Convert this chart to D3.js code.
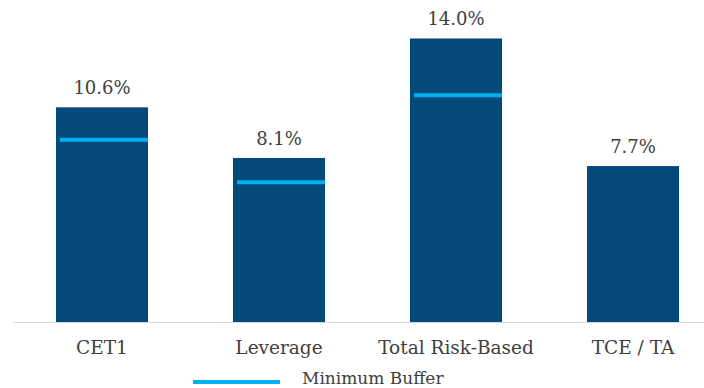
<!DOCTYPE html>
<html>
<head>
<meta charset="utf-8">
<script src="https://cdn.jsdelivr.net/npm/d3@7"></script>
<style>
  body { margin: 0; background: #fff; }
  svg text { font-family: "DejaVu Serif", Georgia, serif; fill: #404040; }
</style>
</head>
<body>
<script>
var categories = ["CET1", "Leverage", "Total Risk-Based", "TCE / TA"];
var ratios = [10.6, 8.1, 14.0, 7.7];
var buffers = [9.0, 6.9, 11.2, null];
var valueLabels = ["10.6%", "8.1%", "14.0%", "7.7%"];

var config = {
    width: 704,
    height: 388,
    baseline: 322,
    barColor: "#034a7b",
    bufferColor: "#00b0f0"
}

var svg = d3.select("body").append("svg")
    .attr("width", config.width)
    .attr("height", config.height)

var x = d3.scaleBand()
    .domain(categories)
    .range([13.5, 721.5])
    .paddingInner(0.48)
    .paddingOuter(0.24)

var y = d3.scaleLinear()
    .domain([0, 15.9])
    .range([config.baseline, 0])

var rows = categories.map(function(c, i) {
    return {cat: c, value: ratios[i], buffer: buffers[i], label: valueLabels[i]};
})

svg.append("g").selectAll("rect")
    .data(rows)
    .enter().append("rect")
        .attr("x", function(d) { return x(d.cat); })
        .attr("y", function(d) { return y(d.value); })
        .attr("width", x.bandwidth())
        .attr("height", function(d) { return y(0) - y(d.value); })
        .attr("fill", config.barColor)

svg.append("g").selectAll("line")
    .data(rows.filter(function(d) { return d.buffer != null; }))
    .enter().append("line")
        .attr("x1", function(d) { return x(d.cat) + 4; })
        .attr("x2", function(d) { return x(d.cat) + x.bandwidth(); })
        .attr("y1", function(d) { return y(d.buffer); })
        .attr("y2", function(d) { return y(d.buffer); })
        .attr("stroke", config.bufferColor)
        .attr("stroke-width", 4)

// value labels
svg.append("g").selectAll("text")
    .data(rows)
    .enter().append("text")
        .attr("x", function(d) { return x(d.cat) + x.bandwidth() / 2; })
        .attr("y", function(d) { return y(d.value) - 13; })
        .attr("text-anchor", "middle")
        .attr("font-size", 18)
        .text(function(d) { return d.label; })

// x axis
var xAxis = svg.append("g")
    .attr("transform", "translate(0," + config.baseline + ")")
    .call(d3.axisBottom(x).tickSize(0).tickPadding(0))
xAxis.select(".domain").remove()
xAxis.selectAll("text")
    .attr("y", 32)
    .attr("dy", null)
    .attr("font-size", 18.5)
    .style("font-family", "\"DejaVu Serif\", Georgia, serif")
    .attr("fill", "#404040")

svg.append("line")
    .attr("x1", 13).attr("x2", 704)
    .attr("y1", config.baseline + 0.5).attr("y2", config.baseline + 0.5)
    .attr("stroke", "#d9d9d9")
    .attr("stroke-width", 1)

// legend
var legend = svg.append("g").attr("transform", "translate(193,382)")
legend.append("line")
    .attr("x1", 0).attr("x2", 87)
    .attr("stroke", config.bufferColor)
    .attr("stroke-width", 4)
legend.append("text")
    .attr("x", 109)
    .attr("y", 2)
    .attr("font-size", 17)
    .text("Minimum Buffer")
</script>
</body>
</html>
